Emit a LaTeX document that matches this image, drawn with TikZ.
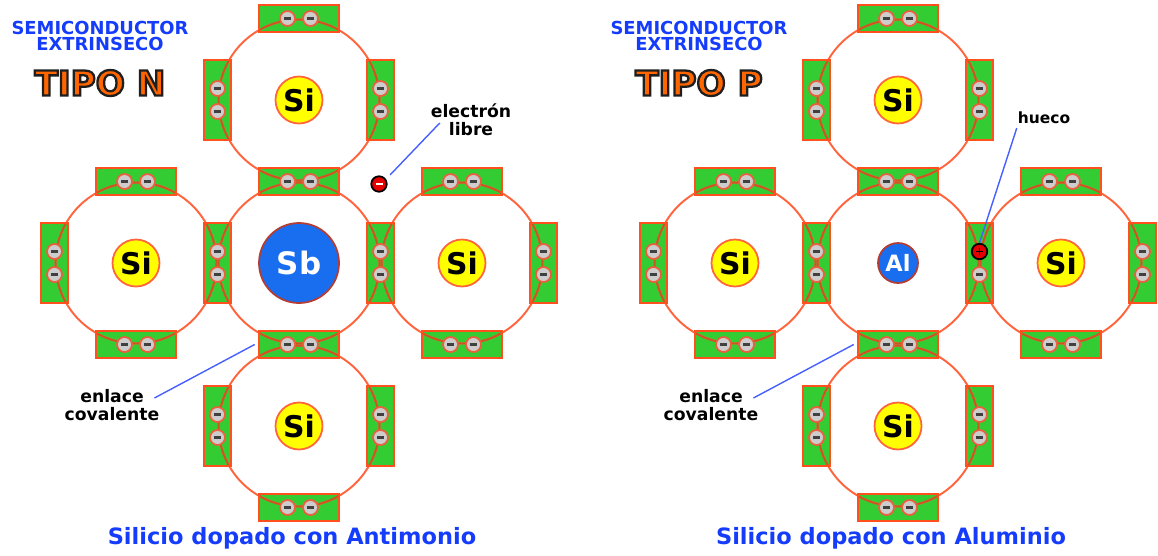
\documentclass[tikz,border=0pt]{standalone}
\usepackage{fontspec}
\setmainfont{DejaVu Sans}
\usetikzlibrary{positioning,calc}
\definecolor{bondgreen}{RGB}{51,204,51}
\definecolor{bondred}{RGB}{255,80,30}
\definecolor{shellred}{RGB}{255,100,60}
\definecolor{shelldark}{RGB}{205,85,35}
\definecolor{elecgray}{RGB}{205,205,205}
\definecolor{elecedge}{RGB}{235,95,60}
\definecolor{siyellow}{RGB}{255,255,0}
\definecolor{dopblue}{RGB}{25,110,240}
\definecolor{dopedge}{RGB}{180,60,50}
\definecolor{titleblue}{RGB}{20,60,250}
\definecolor{leaderblue}{RGB}{70,95,255}
\definecolor{tipoorange}{RGB}{255,102,0}
% orange letters with a dark rim (fill + stroke render mode)
\newcommand\rimmed[1]{\special{pdf:literal direct q 2 Tr 1.3 w 0.12 0.12 0.12 RG}#1\special{pdf:literal direct Q}}
% bond sites around the dopant, in half lattice steps
\newcommand\hbondlist{ht/0/-3, hu/0/-1, hd/0/1, hb/0/3, hlu/-2/-1, hld/-2/1, hru/2/-1, hrd/2/1}
\newcommand\vbondlist{vl/-3/0, vcl/-1/0, vcr/1/0, vr/3/0, vtl/-1/-2, vtr/1/-2, vbl/-1/2, vbr/1/2}
\def\holesite{p-vcr}
\tikzset{
  hbond/.style={rectangle, fill=bondgreen, inner sep=0pt, minimum width=1.6cm, minimum height=0.51cm},
  vbond/.style={hbond, minimum width=0.51cm, minimum height=1.6cm},
  bondedge/.style={draw=bondred, line width=1.1pt},
  shell/.style={draw=shellred, line width=1.1pt},
  shellin/.style={draw=shelldark, line width=1.1pt},
  electron/.style={circle, draw=elecedge, fill=elecgray, line width=1pt, minimum size=0.3cm, inner sep=0pt,
    path picture={\draw[black!75, line width=1.4pt]
      ([xshift=-0.065cm]path picture bounding box.center) -- ([xshift=0.065cm]path picture bounding box.center);}},
  freeelec/.style={circle, draw=black, fill=red!90!black, line width=1pt, minimum size=0.31cm, inner sep=0pt,
    path picture={\draw[white, line width=1.3pt]
      ([xshift=-0.07cm]path picture bounding box.center) -- ([xshift=0.07cm]path picture bounding box.center);}},
  hole/.style={circle, draw=black, fill=red!90!black, line width=1pt, minimum size=0.31cm, inner sep=0pt,
    path picture={\draw[black, line width=1pt]
      ([xshift=-0.07cm]path picture bounding box.center) -- ([xshift=0.07cm]path picture bounding box.center)
      ([yshift=-0.07cm]path picture bounding box.center) -- ([yshift=0.07cm]path picture bounding box.center);}},
  silicon/.style={circle, draw=shellred, fill=siyellow, line width=1pt, minimum size=0.94cm, inner sep=0pt,
    font=\fontsize{17}{17}\selectfont\bfseries},
  dopant/.style={circle, draw=dopedge, fill=dopblue, line width=1pt, inner sep=0pt, text=white},
  heading/.style={font=\fontsize{10.2}{9.6}\selectfont\bfseries, text=titleblue, align=center, inner sep=0pt},
  tipo/.style={font=\fontsize{19.5}{19.5}\selectfont\bfseries, text=tipoorange, inner sep=0pt},
  note/.style={font=\fontsize{9.8}{10.2}\selectfont\bfseries, align=center, inner sep=1pt},
  caption/.style={font=\fontsize{12.8}{13}\selectfont\bfseries, text=titleblue, inner sep=0pt},
  leader/.style={draw=leaderblue, line width=0.8pt}
}

\begin{document}
\begin{tikzpicture}[x=0.02cm, y=-0.02cm]
\useasboundingbox (0,0) rectangle (1158,555);
\node[dopant, minimum size=1.6cm, font=\fontsize{17.6}{17.6}\selectfont\bfseries] (n-mid) at (299,263) {Sb};
\node[dopant, minimum size=0.8cm, font=\fontsize{12.8}{12.8}\selectfont\bfseries] (p-mid) at (898,263) {Al};
\foreach \p/\cx/\kind/\dopname in {n/299/N/Antimonio, p/898/P/Aluminio} {
  \foreach \a/\dx/\dy in {top/0/-2, left/-2/0, right/2/0, bottom/0/2}
    \node[silicon] (\p-\a) at (\cx+81.5*\dx, 263+81.5*\dy) {Si};
  % covalent bonds, green boxes first
  \foreach \b/\dx/\dy in \hbondlist
    \node[hbond] (\p-\b) at (\cx+81.5*\dx, 263+81.5*\dy) {};
  \foreach \b/\dx/\dy in \vbondlist
    \node[vbond] (\p-\b) at (\cx+81.5*\dx, 263+81.5*\dy) {};
  % valence shells, darker where they run through a bond
  \foreach \a in {top, left, right, bottom, mid}
    \draw[shell] (\p-\a.center) circle[radius=1.61cm];
  \begin{scope}
    \clip \foreach \b/\dx/\dy in \hbondlist {(\p-\b.south west) rectangle (\p-\b.north east)}
          \foreach \b/\dx/\dy in \vbondlist {(\p-\b.south west) rectangle (\p-\b.north east)};
    \foreach \a in {top, left, right, bottom, mid}
      \draw[shellin] (\p-\a.center) circle[radius=1.61cm];
  \end{scope}
  % box edges and the shared electron pairs
  \foreach \b/\dx/\dy in \hbondlist {
    \draw[bondedge] (\p-\b.south west) rectangle (\p-\b.north east);
    \node[electron] (\p-\b-1) at ([xshift=-0.23cm]\p-\b.center) {};
    \node[electron] (\p-\b-2) at ([xshift=0.23cm]\p-\b.center) {};
  }
  \foreach \b/\dx/\dy in \vbondlist {
    \draw[bondedge] (\p-\b.south west) rectangle (\p-\b.north east);
    \edef\bondsite{\p-\b}
    \ifx\bondsite\holesite\else
      \node[electron] (\p-\b-1) at ([yshift=0.23cm]\p-\b.center) {};
    \fi
    \node[electron] (\p-\b-2) at ([yshift=-0.23cm]\p-\b.center) {};
  }
  % titles
  \node[heading] (\p-head) at (\cx-199,36) {SEMICONDUCTOR\\EXTRINSECO};
  \node[tipo] (\p-tipo) at (\cx-199,83) {\rimmed{TIPO \kind}};
  \node[caption] (\p-caption) at (\cx-7,538) {Silicio dopado con \dopname};
  \node[note] (\p-enlace) at (\cx-187,405) {enlace\\covalente};
  \draw[leader] ($(\p-enlace.east)+(-7,-7)$) -- ($(\p-hd.west)+(-4,0)$);
}
% extra electron from the Sb donor
\node[freeelec] (n-free) at (379,184) {};
\node[note] (n-libre) at (471,120) {electrón\\libre};
\draw[leader] ($(n-libre.west)+(11,3)$) -- ($(n-free.north east)+(5,-3)$);
% missing electron next to the Al acceptor
\node[hole] (p-hole) at ([yshift=0.23cm]p-vcr.center) {};
\node[note, font=\fontsize{8.8}{10}\selectfont\bfseries] (p-hueco) at (1044,118) {hueco};
\draw[leader] ($(p-hueco.south west)+(1,2)$) -- (p-hole.north);
\end{tikzpicture}
\end{document}
